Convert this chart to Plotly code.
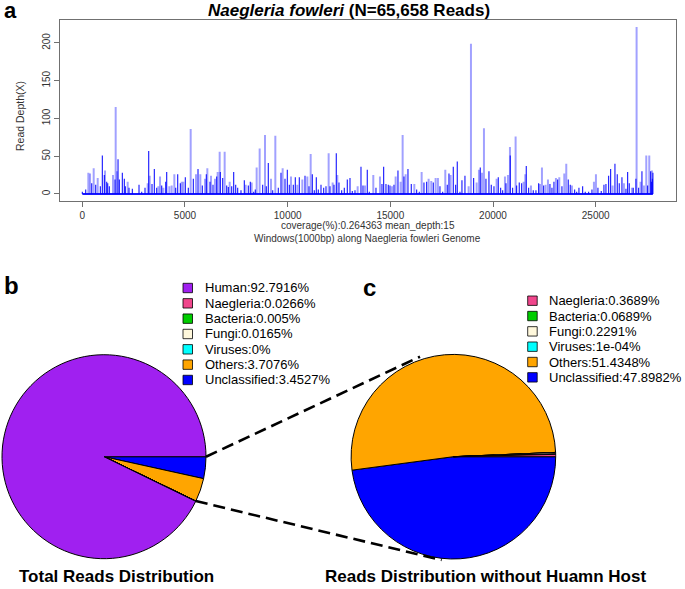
import math
import plotly.graph_objects as go

W, H = 685, 589
FONT = "Liberation Sans, Arial, Helvetica, sans-serif"

# ---------------- Panel a data: read depth per 1000bp window ----------------
win_light = [294, 375, 554, 749, 1106, 1495, 1625, 1690, 2209, 3183, 3281, 3703, 3784, 3946, 4238, 4352,
             4482, 4839, 4920, 5277, 5536, 5747, 5975, 6088, 6267, 6461, 6591, 6689, 6932, 7176, 7955,
             8247, 8490, 8636, 8896, 9188, 9399, 9756, 10162, 10470, 10714, 10957, 11120, 11996, 12191,
             12418, 13408, 13765, 14170, 14495, 15079, 15258, 15501, 15599, 15745, 16167, 16524, 16864,
             16994, 17205, 17319, 17676, 17936, 18812, 18926, 19202, 19315, 19461, 19559, 20175, 20581,
             20727, 20825, 21100, 21490, 21571, 21847, 22285, 22383, 22561, 22675, 23064, 23227, 23470,
             23567, 23843, 24914, 25012, 25823, 26375, 26765, 26992, 27186, 27349, 27463, 27609, 27739]
depth_light = [28, 27, 34, 21, 31, 25, 115, 30, 16, 14, 24, 10, 23, 8, 10, 11,
               26, 16, 16, 86, 26, 26, 20, 34, 24, 20, 29, 56, 56, 16, 12,
               15, 35, 60, 78, 20, 77, 34, 23, 12, 19, 23, 53, 54, 15,
               25, 10, 11, 25, 23, 10, 23, 16, 78, 26, 13, 29, 20,
               17, 21, 21, 32, 25, 10, 199, 15, 32, 28, 87, 20, 23,
               25, 62, 76, 16, 26, 11, 13, 35, 12, 19, 21, 22, 27,
               40, 11, 16, 26, 11, 14, 8, 221, 16, 11, 51, 51, 31]

win_dark = [2, 164, 457, 651, 879, 976, 1073, 1187, 1236, 1317, 1593, 1739, 1804, 1950, 2047, 2096, 2274,
            2437, 2761, 2891, 3053, 3232, 3394, 3508, 3621, 3865, 4060, 4108, 4546, 4644, 4774, 5017, 5163,
            5407, 5634, 5845, 6040, 6218, 6364, 6543, 6721, 6835, 7030, 7111, 7273, 7370, 7468, 7565, 7727,
            7890, 8085, 8182, 8344, 8425, 8782, 8961, 9058, 9269, 9545, 9675, 9870, 9984, 10081, 10276,
            10373, 10568, 10844, 11038, 11201, 11298, 11396, 11493, 11623, 11753, 11866, 12061, 12256,
            12369, 12499, 12629, 12759, 12905, 13035, 13148, 13278, 13570, 13668, 13878, 13976,
            14300, 14592, 14673, 14787, 14901, 14982, 15177, 15371, 15663, 15858, 16021, 16280, 16410,
            16637, 16767, 17092, 17416, 17546, 17773, 17855, 18066, 18179, 18260, 18390, 18487, 18633,
            19055, 19380, 19656, 19802, 19916, 20046, 20257, 20370, 20468, 20630, 20840, 20954, 21149,
            21279, 21393, 21620, 21733, 21961, 22090, 22220, 22464, 22772, 22870, 22967, 23145, 23356,
            23665, 23762, 23973, 24071, 24184, 24363, 24492, 24655, 24817, 25109, 25271, 25401, 25499,
            25628, 25726, 25937, 26051, 26148, 26278, 26473, 26554, 26635, 26830, 26960, 27089, 27252,
            27527, 27674, 27720, 27760, 27785]
depth_dark = [3, 6, 14, 12, 10, 51, 25, 16, 14, 10, 19, 46, 19, 28, 20, 10, 8,
              7, 12, 3, 8, 57, 13, 33, 8, 11, 16, 29, 8, 26, 14, 22, 8,
              20, 33, 11, 26, 16, 12, 23, 29, 21, 11, 9, 10, 29, 12, 8, 5,
              18, 11, 16, 3, 6, 12, 10, 41, 5, 8, 28, 20, 32, 12, 12,
              22, 22, 24, 10, 26, 5, 22, 6, 12, 8, 10, 10, 12,
              54, 15, 5, 8, 19, 21, 4, 5, 36, 11, 32, 3,
              8, 13, 36, 13, 12, 11, 12, 31, 23, 33, 13, 6, 3,
              15, 16, 15, 10, 3, 12, 27, 36, 12, 43, 3, 18, 24,
              21, 35, 20, 30, 12, 10, 22, 8, 5, 14, 51, 8, 11,
              15, 14, 37, 8, 5, 5, 14, 11, 13, 8, 16, 19, 10,
              19, 12, 6, 3, 8, 10, 3, 3, 6, 8, 4, 12, 13,
              24, 33, 40, 26, 14, 22, 7, 29, 14, 8, 20, 8, 30,
              11, 30, 16, 20, 28]

x_ticks = [0, 5000, 10000, 15000, 20000, 25000]
y_ticks = [0, 50, 100, 150, 200]

# ---------------- Panels b / c data ----------------
cats_b = ["Human", "Naegleria", "Bacteria", "Fungi", "Viruses", "Others", "Unclassified"]
pct_b = [92.7916, 0.0266, 0.005, 0.0165, 0.0, 3.7076, 3.4527]
cols_b = ["#A020F0", "#F0468C", "#00CD00", "#FFF8DC", "#00FFFF", "#FFA500", "#0000FF"]

cats_c = ["Naegleria", "Bacteria", "Fungi", "Viruses", "Others", "Unclassified"]
pct_c = [0.3689, 0.0689, 0.2291, 0.0001, 51.4348, 47.8982]
cols_c = ["#F0468C", "#00CD00", "#FFF8DC", "#00FFFF", "#FFA500", "#0000FF"]


def fmt(v):
    if v == 0:
        return "0"
    if v < 0.001:
        return f"{v:.0e}"
    return ("%.4f" % v).rstrip("0").rstrip(".")


def px(x):
    return x / W


def py(y):
    return 1 - y / H


def spikes(xs, ys):
    X, Y = [], []
    for a, b in zip(xs, ys):
        X += [a, a, None]
        Y += [0, b, None]
    return X, Y


fig = go.Figure()

all_w = win_light + win_dark
fig.add_trace(go.Scatter(x=[min(all_w), max(all_w)], y=[0, 0], mode="lines",
                         line=dict(color="rgba(0,0,255,0.9)", width=2), hoverinfo="skip",
                         xaxis="x", yaxis="y", showlegend=False))
lx, ly = spikes(win_light, depth_light)
fig.add_trace(go.Scatter(x=lx, y=ly, mode="lines", line=dict(color="rgba(0,0,255,0.37)", width=2),
                         xaxis="x", yaxis="y", showlegend=False, hoverinfo="skip"))
dx, dy = spikes(win_dark, depth_dark)
fig.add_trace(go.Scatter(x=dx, y=dy, mode="lines", line=dict(color="rgba(0,0,255,0.85)", width=1.2),
                         xaxis="x", yaxis="y", showlegend=False, hoverinfo="skip"))

# pies (R draws counter-clockwise from 3 o'clock; equivalent: reversed order, clockwise from 3 o'clock)
cb = (104, 456.7, 102)
cc = (453.4, 456.7, 102.3)
for cats, pct, cols, (cx, cy, r) in [(cats_b, pct_b, cols_b, cb), (cats_c, pct_c, cols_c, cc)]:
    fig.add_trace(go.Pie(labels=cats[::-1], values=pct[::-1], sort=False, direction="clockwise",
                         rotation=90, textinfo="none", showlegend=False,
                         marker=dict(colors=cols[::-1], line=dict(color="black", width=1)),
                         domain=dict(x=[px(cx - r), px(cx + r)], y=[py(cy + r), py(cy - r)])))

axis_common = dict(showgrid=False, zeroline=False, showline=True, mirror=True,
                   linecolor="#707070", linewidth=1, ticks="outside", ticklen=5,
                   tickcolor="#707070", tickfont=dict(family=FONT, size=10, color="#333"))
fig.update_layout(
    width=W, height=H, margin=dict(l=0, r=0, t=0, b=0),
    paper_bgcolor="white", plot_bgcolor="white",
    xaxis=dict(domain=[px(59.5), px(675.7)], range=[-1111, 28896], tickvals=x_ticks,
               ticktext=[str(t) for t in x_ticks], anchor="y", **axis_common),
    yaxis=dict(domain=[py(200.6), py(20)], range=[-8.86, 230.4], tickvals=y_ticks,
               ticktext=[str(t) for t in y_ticks], tickangle=-90, anchor="x", **axis_common),
)

ann = []


def text(x, y, s, size, bold=False, color="black", angle=0, xanchor="center"):
    ann.append(dict(x=px(x), y=py(y), xref="paper", yref="paper", text=(f"<b>{s}</b>" if bold else s),
                    showarrow=False, xanchor=xanchor, yanchor="middle", textangle=angle,
                    font=dict(family=FONT, size=size, color=color)))


text(10, 11, "a", 22, bold=True)
text(11, 286, "b", 24, bold=True)
text(369, 287, "c", 24, bold=True)
text(349, 10, "<i>Naegleria fowleri</i> (N=65,658 Reads)", 17, bold=True)
text(20, 116, "Read Depth(X)", 10.5, color="#333", angle=-90)
text(367.6, 225.5, "coverage(%):0.264363 mean_depth:15", 10, color="#333")
text(367.6, 238, "Windows(1000bp) along Naegleria fowleri Genome", 10, color="#333")
text(116, 576, "Total Reads Distribution", 17, bold=True)
text(486, 576, "Reads Distribution without Huamn Host", 17, bold=True)

shapes = []
# legends
for cats, pct, cols, x0, y0 in [(cats_b, pct_b, cols_b, 183, 288), (cats_c, pct_c, cols_c, 527.7, 300.7)]:
    for i, (c, v, col) in enumerate(zip(cats, pct, cols)):
        yc = y0 + i * 15.33
        shapes.append(dict(type="rect", xref="paper", yref="paper", x0=px(x0), x1=px(x0 + 9.5),
                           y0=py(yc + 4.7), y1=py(yc - 4.7), fillcolor=col,
                           line=dict(color="black", width=0.8)))
        text(x0 + 19.5, yc, f"{c}:{fmt(v)}%", 13, xanchor="left")

# dashed connector lines
cxb, cyb, rb = cb
start_others = sum(pct_b[:5]) / sum(pct_b) * 360.0
p_up = (cxb + rb, cyb)
p_lo = (cxb + rb * math.cos(math.radians(start_others)), cyb - rb * math.sin(math.radians(start_others)))
for (xa, ya), (xb, yb) in [(p_up, (420, 356.7)), (p_lo, (441.7, 560))]:
    shapes.append(dict(type="line", xref="paper", yref="paper", x0=px(xa), y0=py(ya), x1=px(xb), y1=py(yb),
                       line=dict(color="black", width=2.6, dash="12px,6px")))

fig.update_layout(annotations=ann, shapes=shapes)
fig.write_html("out.html", config={"displayModeBar": False},
               post_script="document.body.style.margin='0';document.body.style.overflow='hidden';")
